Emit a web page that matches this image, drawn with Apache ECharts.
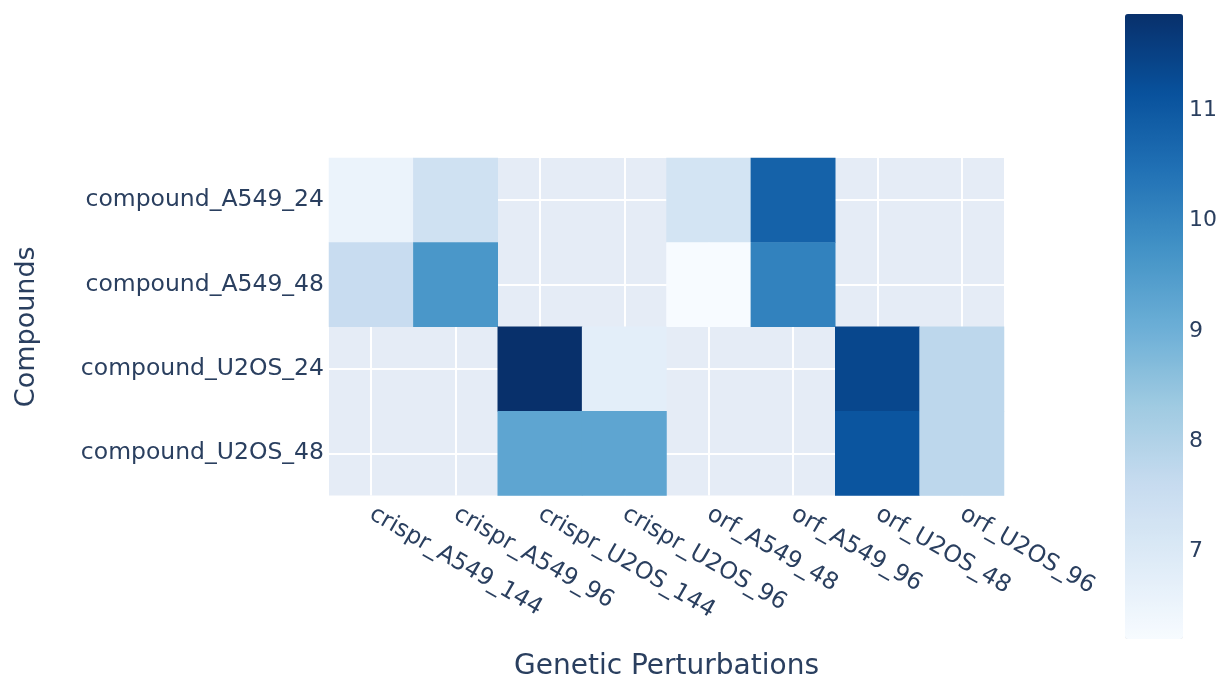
<!DOCTYPE html>
<html>
<head>
<meta charset="utf-8">
<script src="https://cdn.jsdelivr.net/npm/echarts@6/dist/echarts.min.js"></script>
<style>html,body{margin:0;padding:0;background:#fff;}#chart{width:1220px;height:677px;}</style>
</head>
<body>
<div id="chart"></div>
<script>
const xCategories = ['crispr_A549_144','crispr_A549_96','crispr_U2OS_144','crispr_U2OS_96','orf_A549_48','orf_A549_96','orf_U2OS_48','orf_U2OS_96'];
const yCategories = ['compound_A549_24','compound_A549_48','compound_U2OS_24','compound_U2OS_48'];
const rowA549_24 = [6.55, 7.36, null, null, 7.24, 10.79, null, null];
const rowA549_48 = [7.57, 9.61, null, null, 6.21, 10.09, null, null];
const rowU2OS_24 = [null, null, 11.87, 6.78, null, null, 11.38, 7.78];
const rowU2OS_48 = [null, null, 9.26, 9.26, null, null, 11.08, 7.78];
const colorbarTicks = [7, 8, 9, 10, 11];
const blues = ['rgb(247,251,255)','rgb(222,235,247)','rgb(198,219,239)','rgb(158,202,225)','rgb(107,174,214)','rgb(66,146,198)','rgb(33,113,181)','rgb(8,81,156)','rgb(8,48,107)'];

const rows = [rowA549_24, rowA549_48, rowU2OS_24, rowU2OS_48];
const data = [];
let vmin = Infinity, vmax = -Infinity;
rows.forEach((row, yi) => row.forEach((v, xi) => {
  if (v !== null) { data.push([xi, yi, v]); vmin = Math.min(vmin, v); vmax = Math.max(vmax, v); }
}));

const FONT = 'DejaVu Sans';
const TXT = '#2a3f5f';
const chart = echarts.init(document.getElementById('chart'));
chart.setOption({
  animation: false,
  backgroundColor: '#fff',
  textStyle: { fontFamily: FONT, color: TXT },
  grid: [
    { left: 329, top: 158, width: 675, height: 337.5, show: true, backgroundColor: '#E5ECF6', borderWidth: 0, outerBoundsMode: 'none', containLabel: false },
    { left: 1125, top: 14, width: 58, height: 625, show: false, outerBoundsMode: 'none', containLabel: false }
  ],
  xAxis: [
    {
      type: 'category', data: xCategories, gridIndex: 0,
      axisLine: { show: false }, axisTick: { show: false },
      splitLine: { show: true, alignWithLabel: true, lineStyle: { color: '#fff', width: 2 } },
      axisLabel: { rotate: -30, interval: 0, fontSize: 23.5, color: TXT, fontFamily: FONT, margin: 17 },
      name: 'Genetic Perturbations', nameLocation: 'middle', nameGap: 157,
      nameTextStyle: { fontSize: 28, color: TXT, fontFamily: FONT }
    },
    { type: 'value', gridIndex: 1, show: false, min: 0, max: 1 }
  ],
  yAxis: [
    {
      type: 'category', data: yCategories, gridIndex: 0, inverse: true,
      axisLine: { show: false }, axisTick: { show: false },
      splitLine: { show: true, alignWithLabel: true, lineStyle: { color: '#fff', width: 2 } },
      axisLabel: { interval: 0, fontSize: 23.5, color: TXT, fontFamily: FONT, margin: 5 },
      name: 'Compounds', nameLocation: 'middle', nameGap: 289,
      nameTextStyle: { fontSize: 27, color: TXT, fontFamily: FONT }
    },
    {
      type: 'value', gridIndex: 1, position: 'right', min: vmin, max: vmax,
      axisLine: { show: false }, axisTick: { show: false }, splitLine: { show: false },
      axisLabel: { customValues: colorbarTicks, fontSize: 22, color: TXT, fontFamily: FONT, margin: 6 }
    }
  ],
  visualMap: {
    type: 'continuous', min: vmin, max: vmax, seriesIndex: 0,
    orient: 'vertical', left: 1125, top: 14, itemWidth: 58, itemHeight: 625,
    padding: 0, calculable: false, text: null, showLabel: false, hoverLink: false,
    inRange: { color: blues }
  },
  series: [{
    type: 'heatmap', xAxisIndex: 0, yAxisIndex: 0, data: data,
    itemStyle: { borderWidth: 0 },
    emphasis: { disabled: true }
  }]
});
</script>
</body>
</html>
